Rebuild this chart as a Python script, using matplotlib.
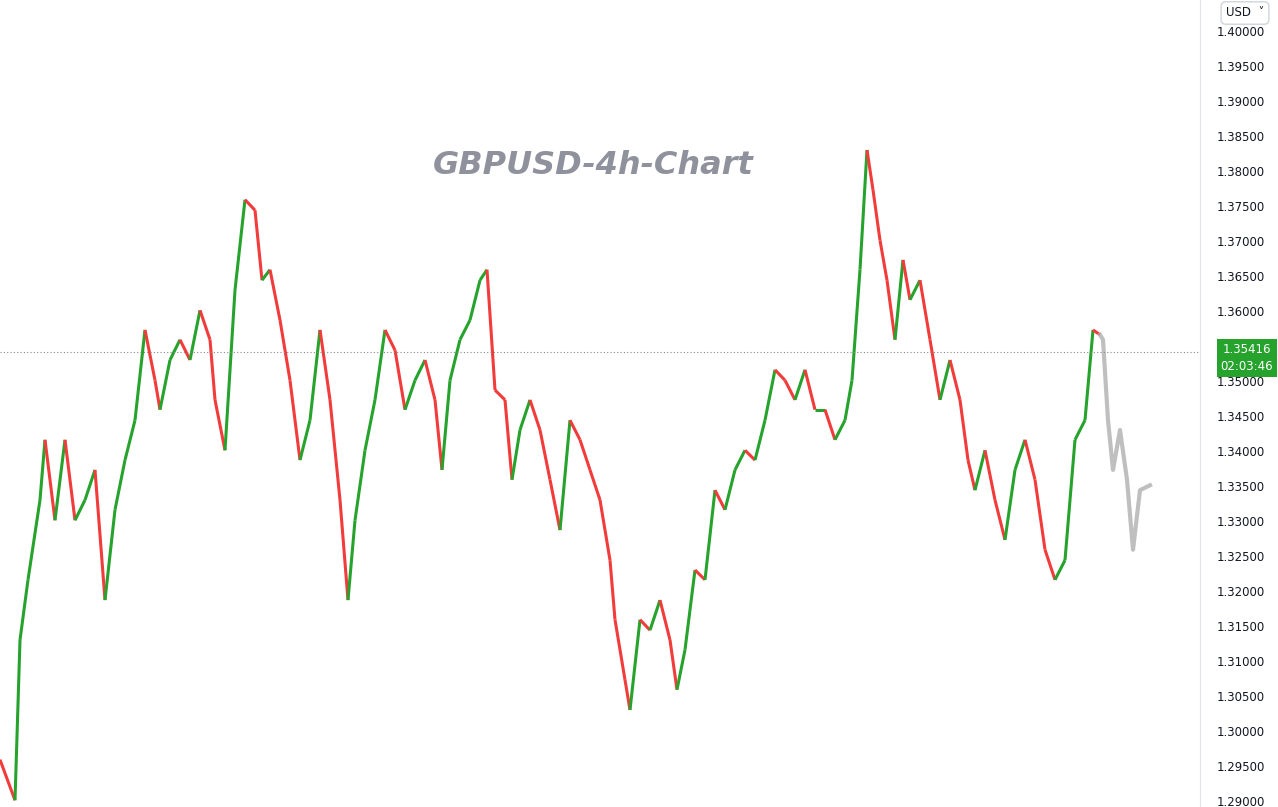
import matplotlib
matplotlib.use("Agg")
import matplotlib.pyplot as plt

# pixel-x positions of traced closes and prices
xs = [0,15,20,28,40,45,55,65,75,85,95,105,115,125,135,145,155,160,170,180,190,200,210,215,225,235,245,255,262,270,
      280,290,300,310,320,330,340,348,355,365,375,385,395,405,415,425,435,442,450,460,470,480,487,495,505,512,520,530,540,550,
      560,570,580,590,600,610,615,625,630,640,650,660,670,677,685,695,705,715,725,735,745,755,765,775,785,795,805,815,825,835,
      845,852,860,867,873,880,887,895,903,910,920,930,940,950,960,968,975,985,995,1005,1015,1025,1035,1045,1055,1065,1075,1085,1093,1100]
prices = [1.2959,1.2901,1.3130,1.3216,1.3330,1.3416,1.3301,1.3416,1.3301,1.3330,1.3373,1.3187,1.3316,1.3387,1.3444,1.3573,
          1.3501,1.3459,1.3530,1.3559,1.3530,1.3601,1.3559,1.3473,1.3401,1.3630,1.3759,1.3744,1.3644,1.3659,
          1.3587,1.3501,1.3387,1.3444,1.3573,1.3473,1.3330,1.3187,1.3301,1.3401,1.3473,1.3573,1.3544,1.3459,1.3501,1.3530,
          1.3473,1.3373,1.3501,1.3559,1.3587,1.3644,1.3659,1.3487,1.3473,1.3359,1.3430,1.3473,1.3430,1.3359,
          1.3287,1.3444,1.3416,1.3373,1.3330,1.3244,1.3159,1.3073,1.3030,1.3159,1.3144,1.3187,1.3130,1.3059,1.3116,1.3230,
          1.3216,1.3344,1.3316,1.3373,1.3401,1.3387,1.3444,1.3516,1.3501,1.3473,1.3516,1.3459,1.3459,1.3416,
          1.3444,1.3501,1.3659,1.3830,1.3773,1.3701,1.3644,1.3559,1.3673,1.3616,1.3644,1.3559,1.3473,1.3530,1.3473,1.3387,
          1.3344,1.3401,1.3330,1.3273,1.3373,1.3416,1.3359,1.3259,1.3216,1.3244,1.3416,1.3444,1.3573,1.3566]
proj_x = [1100,1103,1108,1113,1120,1127,1133,1140,1150]
proj_p = [1.3566,1.3559,1.3444,1.3373,1.3430,1.3359,1.3259,1.3344,1.3351]
last_price = 1.35416
ticks = [1.29 + 0.005 * i for i in range(23)]

fig = plt.figure(figsize=(12.78, 8.07), dpi=100)
ax = fig.add_axes([0, 0, 1200 / 1278, 1])
ax.set_xlim(0, 1200)
ax.set_ylim(1.28914, 1.40443)
for i in range(1, len(xs)):
    c = '#26a32c' if prices[i] >= prices[i - 1] else '#f23b3b'
    ax.plot(xs[i - 1:i + 1], prices[i - 1:i + 1], color=c, lw=2.2, solid_capstyle='butt')
ax.plot(proj_x, proj_p, color='#b0b0b0', lw=3, alpha=0.8)
ax.axhline(last_price, color='#888888', ls=(0, (1, 2)), lw=0.8)
for s in ['top', 'left', 'bottom']:
    ax.spines[s].set_visible(False)
ax.spines['right'].set_color('#e0e3eb')
ax.set_xticks([])
ax.yaxis.tick_right()
ax.set_yticks(ticks)
ax.set_yticklabels([f"{t:.5f}" for t in ticks], fontsize=8.5, color='#131722')
ax.tick_params(axis='y', length=0, pad=12)
ax.text(593 / 1200, 1 - 165 / 807, "GBPUSD-4h-Chart", transform=ax.transAxes, ha='center', va='center',
        fontsize=23, fontweight='bold', fontstyle='italic', color='#8f929c')
fig.text(1247 / 1278, 1 - 358 / 807, "1.35416\n02:03:46", ha='center', va='center', fontsize=8.5, color='white',
         bbox=dict(boxstyle='square,pad=0.3', fc='#26a32c', ec='none'), linespacing=1.4, zorder=10)
fig.text(1245 / 1278, 1 - 13 / 807, "USD  \u02c5", ha='center', va='center', fontsize=8.5, color='#131722',
         bbox=dict(boxstyle='round,pad=0.4', fc='white', ec='#d1d4dc'), zorder=10)
fig.savefig("out.png", dpi=100)
